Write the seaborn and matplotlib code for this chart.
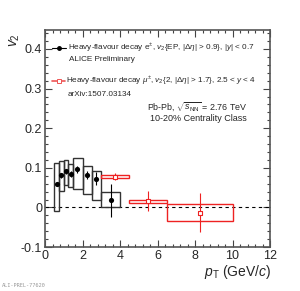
import numpy as np
import pandas as pd
import matplotlib
matplotlib.use("Agg")
import matplotlib.pyplot as plt
from matplotlib.patches import Rectangle
from matplotlib.lines import Line2D
from matplotlib.ticker import MultipleLocator
import seaborn as sns

# Heavy-flavour decay electrons (ALICE Preliminary)
e_pt = [0.63, 0.87, 1.12, 1.37, 1.72, 2.24, 2.72, 3.5]
e_v2 = [0.059, 0.081, 0.091, 0.084, 0.096, 0.082, 0.073, 0.018]
e_stat = [0.006, 0.006, 0.006, 0.007, 0.008, 0.011, 0.016, 0.042]
e_bin_lo = [0.5, 0.75, 1.0, 1.25, 1.5, 2.0, 2.5, 3.0]
e_bin_hi = [0.75, 1.0, 1.25, 1.5, 2.0, 2.5, 3.0, 4.0]
e_sys_hi = [0.112, 0.116, 0.119, 0.109, 0.126, 0.105, 0.091, 0.038]
e_sys_lo = [-0.009, 0.042, 0.056, 0.052, 0.046, 0.035, 0.019, 0.0]

# Heavy-flavour decay muons (arXiv:1507.03134)
m_pt = [3.73, 5.49, 8.25]
m_v2 = [0.078, 0.016, -0.013]
m_stat = [0.009, 0.025, 0.050]
m_bin_lo = [3.0, 4.5, 6.5]
m_bin_hi = [4.5, 6.5, 10.0]
m_sys_hi = [0.082, 0.020, 0.009]
m_sys_lo = [0.074, 0.012, -0.034]

sns.set_style("ticks")
plt.rcParams['font.family'] = ['Liberation Sans', 'DejaVu Sans']
plt.rcParams['mathtext.fontset'] = 'custom'
plt.rcParams['mathtext.rm'] = 'Liberation Sans'
plt.rcParams['mathtext.it'] = 'Liberation Sans:italic'

fig = plt.figure(figsize=(3.0, 2.91), dpi=100)
ax = fig.add_axes([0.15, 0.151, 0.75, 0.746])

ax.axhline(0, color='black', lw=0.8, ls=(0, (3, 3)), zorder=1)

# systematic boxes
for lo, hi, slo, shi in zip(e_bin_lo, e_bin_hi, e_sys_lo, e_sys_hi):
    ax.add_patch(Rectangle((lo, slo), hi - lo, shi - slo, fill=False,
                           ec='#333333', lw=1.0, zorder=2))
for lo, hi, slo, shi in zip(m_bin_lo, m_bin_hi, m_sys_lo, m_sys_hi):
    ax.add_patch(Rectangle((lo, slo), hi - lo, shi - slo, fill=False,
                           ec='#ee2222', lw=1.0, zorder=2))

ax.errorbar(e_pt, e_v2, yerr=e_stat, fmt='none', ecolor='black', elinewidth=0.8, zorder=3)
ax.errorbar(m_pt, m_v2, yerr=m_stat, fmt='none', ecolor='#ee2222', elinewidth=0.8, zorder=3)

df_e = pd.DataFrame({'pt': e_pt, 'v2': e_v2})
df_m = pd.DataFrame({'pt': m_pt, 'v2': m_v2})
sns.scatterplot(data=df_e, x='pt', y='v2', ax=ax, color='black', marker='o', s=14,
                edgecolor='black', linewidth=0, zorder=4)
sns.scatterplot(data=df_m, x='pt', y='v2', ax=ax, color='white', marker='s', s=12,
                edgecolor='#ee2222', linewidth=0.8, zorder=4)

ax.set_xlim(0, 12)
ax.set_ylim(-0.1, 0.448)
ax.xaxis.set_minor_locator(MultipleLocator(0.4))
ax.yaxis.set_minor_locator(MultipleLocator(0.02))
ax.set_xticks([0, 2, 4, 6, 8, 10, 12])
ax.set_xticklabels(['0', '2', '4', '6', '8', '10', '12'])
ax.set_yticks([-0.1, 0, 0.1, 0.2, 0.3, 0.4])
ax.set_yticklabels(['-0.1', '0', '0.1', '0.2', '0.3', '0.4'])
ax.tick_params(which='both', direction='in', top=True, right=True, color='#444444',
               labelsize=9, pad=2)
ax.tick_params(which='major', length=5, width=0.8)
ax.tick_params(which='minor', length=2.5, width=0.8)
for s in ax.spines.values():
    s.set_linewidth(1.2)
    s.set_color('#555555')

ax.set_xlabel('')
ax.set_ylabel('')
fig.text(0.905, 0.035, r'$p_{\mathregular{T}}$ (GeV/$c$)', ha='right', va='bottom', fontsize=10)
fig.text(0.05, 0.885, r'$v_{\mathregular{2}}$', ha='center', va='top', fontsize=10, rotation=90)

# legend-like annotations
ax.add_line(Line2D([0.031, 0.093], [0.917, 0.917], transform=ax.transAxes, color='black', lw=0.8))
ax.plot([0.062], [0.917], transform=ax.transAxes, marker='o', ms=2.5, color='black')
ax.text(0.1, 0.917, r'Heavy-flavour decay e$^{\pm}$, $v_{\mathregular{2}}${EP, |$\Delta\eta$| > 0.9}, |$y$| < 0.7',
        transform=ax.transAxes, fontsize=5.9, va='center', ha='left')
ax.text(0.105, 0.862, 'ALICE Preliminary', transform=ax.transAxes, fontsize=5.9, va='center', ha='left')
ax.add_line(Line2D([0.031, 0.09], [0.765, 0.765], transform=ax.transAxes, color='#ee5555', lw=1.2))
ax.plot([0.06], [0.765], transform=ax.transAxes, marker='s', ms=2.2, mfc='white', mec='#ee5555', mew=0.7)
ax.text(0.095, 0.765, r'Heavy-flavour decay $\mu^{\pm}$, $v_{\mathregular{2}}${2, |$\Delta\eta$| > 1.7}, 2.5 < $y$ < 4',
        transform=ax.transAxes, fontsize=5.9, va='center', ha='left')
ax.text(0.1, 0.705, 'arXiv:1507.03134', transform=ax.transAxes, fontsize=5.9, va='center', ha='left')
ax.text(0.453, 0.645, r'Pb-Pb, $\sqrt{s_{\mathregular{NN}}}$ = 2.76 TeV', transform=ax.transAxes,
        fontsize=6.4, va='center', ha='left')
ax.text(0.467, 0.59, '10-20% Centrality Class', transform=ax.transAxes, fontsize=6.5,
        va='center', ha='left')

fig.text(0.007, 0.012, 'ALI-PREL-77620', fontsize=3.8, color='#999999', family='DejaVu Sans Mono',
         ha='left', va='bottom')

fig.savefig('out.png', dpi=100)
